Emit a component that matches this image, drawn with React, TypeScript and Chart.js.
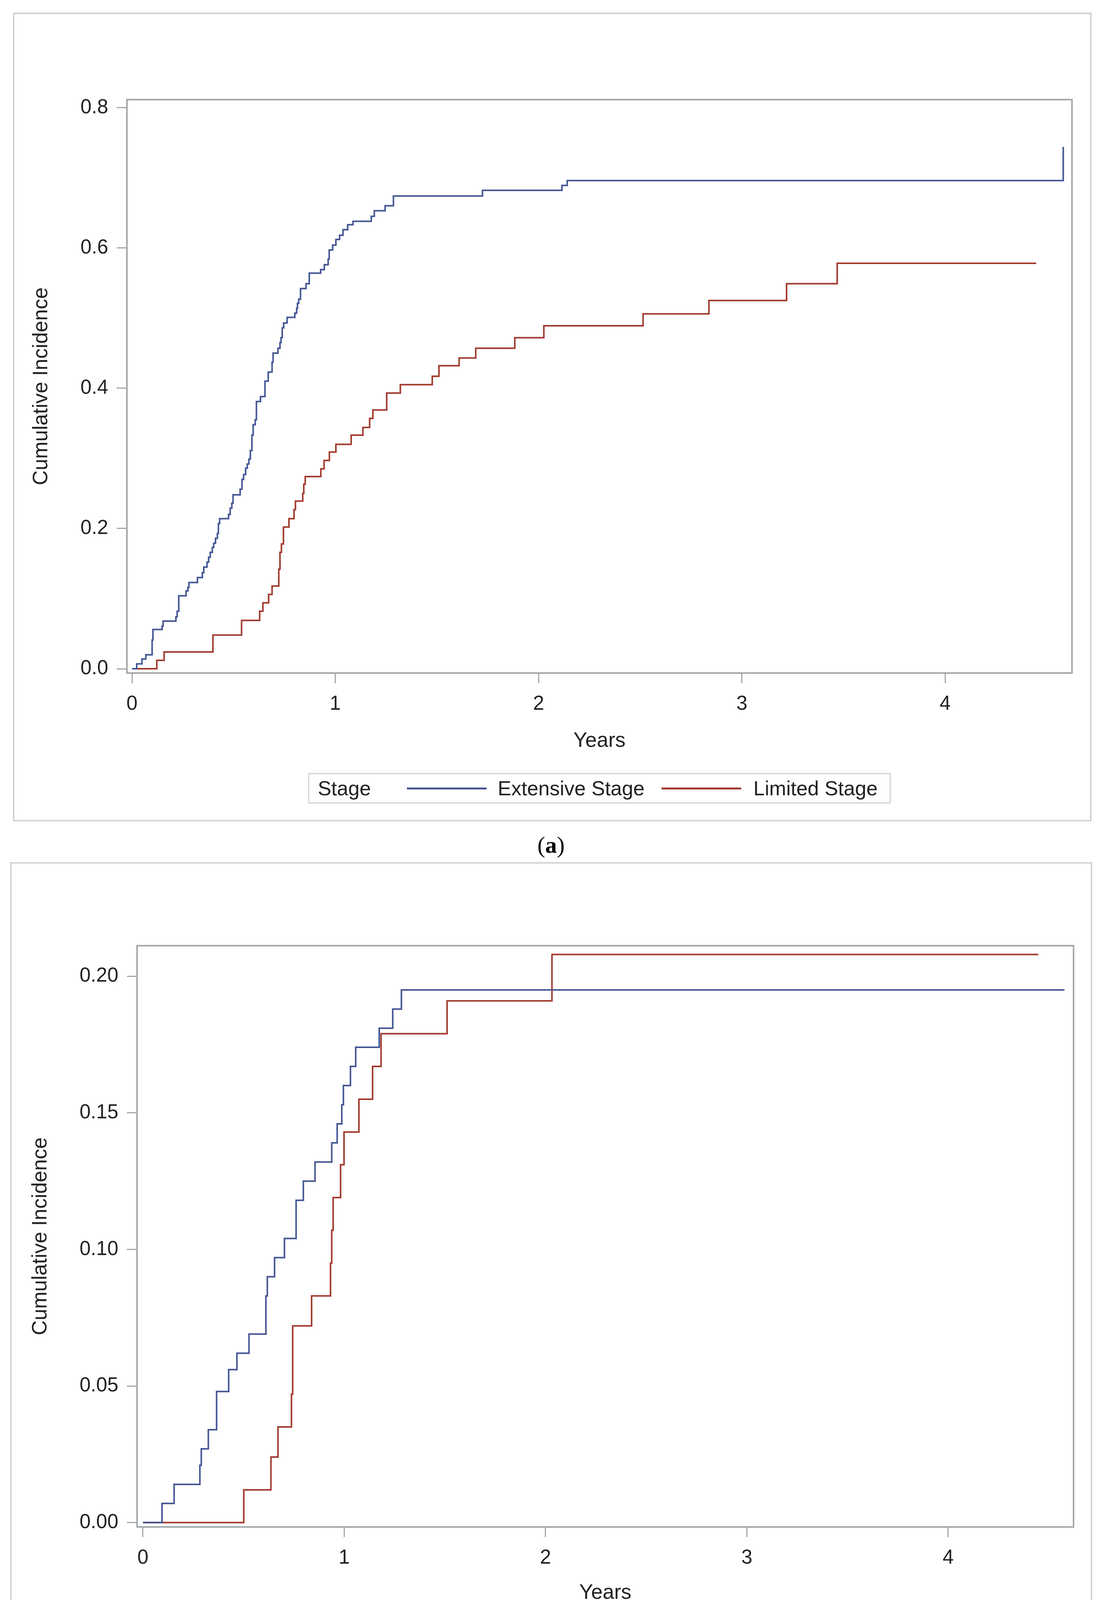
import React, { useEffect, useRef } from "react";
import { Chart, registerables } from "chart.js";

Chart.register(...registerables);

// ---------- data ----------
const legendTitle = "Stage";
const seriesLabels = ["Extensive Stage", "Limited Stage"];
const seriesColors = ["#445694", "#A23A2E"];
const xTitle = "Years";
const yTitle = "Cumulative Incidence";
const xTicks = [0, 1, 2, 3, 4];
const yTicksA = [0, 0.2, 0.4, 0.6, 0.8];
const yTicksB = [0, 0.05, 0.1, 0.15, 0.2];

// Panel (a) – Extensive stage
const extA_t = [0, 0.023, 0.049, 0.068, 0.099, 0.103, 0.148, 0.153, 0.216, 0.222, 0.23, 0.266, 0.275, 0.28, 0.322, 0.346, 0.353, 0.369, 0.377, 0.385, 0.395, 0.402, 0.411, 0.42, 0.425, 0.431, 0.475, 0.483, 0.491, 0.497, 0.532, 0.541, 0.549, 0.559, 0.567, 0.575, 0.582, 0.59, 0.596, 0.606, 0.612, 0.632, 0.654, 0.67, 0.689, 0.694, 0.718, 0.728, 0.733, 0.739, 0.746, 0.763, 0.801, 0.81, 0.814, 0.82, 0.829, 0.856, 0.872, 0.928, 0.946, 0.965, 0.97, 0.987, 1.003, 1.021, 1.038, 1.061, 1.087, 1.177, 1.192, 1.245, 1.286, 1.724, 2.115, 2.141, 4.581];
const extA_ci = [0, 0.007, 0.014, 0.02, 0.041, 0.056, 0.061, 0.068, 0.074, 0.082, 0.104, 0.111, 0.116, 0.123, 0.13, 0.137, 0.145, 0.152, 0.159, 0.166, 0.173, 0.179, 0.186, 0.193, 0.207, 0.214, 0.22, 0.229, 0.236, 0.248, 0.256, 0.27, 0.277, 0.286, 0.292, 0.299, 0.311, 0.333, 0.348, 0.355, 0.381, 0.388, 0.41, 0.423, 0.437, 0.45, 0.457, 0.465, 0.472, 0.486, 0.493, 0.501, 0.507, 0.514, 0.521, 0.527, 0.542, 0.549, 0.564, 0.569, 0.576, 0.584, 0.597, 0.604, 0.612, 0.618, 0.626, 0.633, 0.638, 0.645, 0.653, 0.66, 0.674, 0.682, 0.689, 0.696, 0.744];

// Panel (a) – Limited stage
const limA_t = [0, 0.122, 0.158, 0.398, 0.539, 0.628, 0.644, 0.672, 0.689, 0.722, 0.728, 0.735, 0.745, 0.772, 0.797, 0.804, 0.84, 0.845, 0.852, 0.929, 0.945, 0.971, 1.003, 1.078, 1.136, 1.169, 1.185, 1.253, 1.32, 1.477, 1.51, 1.609, 1.691, 1.883, 2.026, 2.514, 2.838, 3.22, 3.469, 4.448];
const limA_ci = [0, 0.012, 0.024, 0.048, 0.069, 0.082, 0.094, 0.106, 0.118, 0.142, 0.166, 0.178, 0.202, 0.214, 0.227, 0.239, 0.25, 0.263, 0.274, 0.285, 0.297, 0.309, 0.32, 0.333, 0.344, 0.357, 0.369, 0.393, 0.405, 0.417, 0.432, 0.443, 0.457, 0.472, 0.489, 0.506, 0.525, 0.549, 0.578, 0.578];

// Panel (b) – Extensive stage
const extB_t = [0, 0.095, 0.155, 0.283, 0.29, 0.325, 0.366, 0.426, 0.467, 0.527, 0.611, 0.618, 0.654, 0.703, 0.761, 0.797, 0.855, 0.938, 0.965, 0.988, 0.996, 1.031, 1.057, 1.174, 1.241, 1.284, 4.578];
const extB_ci = [0, 0.007, 0.014, 0.021, 0.027, 0.034, 0.048, 0.056, 0.062, 0.069, 0.083, 0.09, 0.097, 0.104, 0.118, 0.125, 0.132, 0.139, 0.146, 0.153, 0.16, 0.167, 0.174, 0.181, 0.188, 0.195, 0.195];

// Panel (b) – Limited stage
const limB_t = [0, 0.501, 0.636, 0.671, 0.738, 0.744, 0.838, 0.932, 0.938, 0.945, 0.982, 0.999, 1.073, 1.141, 1.183, 1.511, 2.032, 4.448];
const limB_ci = [0, 0.012, 0.024, 0.035, 0.047, 0.072, 0.083, 0.095, 0.107, 0.119, 0.131, 0.143, 0.155, 0.167, 0.179, 0.191, 0.208, 0.208];

// ---------- styling ----------
const FONT = "'Liberation Sans', Arial, Helvetica, sans-serif";
const SERIF = "'Liberation Serif', 'Times New Roman', serif";
const TEXT = "#222222";
const AXIS = "#A3A7AB";
const PAGE_W = 2827;

function toPoints(t: number[], v: number[]) {
  return t.map((x, i) => ({ x, y: v[i] }));
}

type PanelProps = {
  top: number;
  height: number;
  pad: { left: number; right: number; top: number; bottom: number };
  yW: number;
  xH: number;
  xMin: number;
  xMax: number;
  yMin: number;
  yMax: number;
  yTicks: number[];
  yDec: number;
  series: { t: number[]; v: number[] }[];
};

function PanelChart(p: PanelProps) {
  const ref = useRef<HTMLCanvasElement>(null);
  useEffect(() => {
    const frame = {
      id: "plotFrame",
      beforeDatasetsDraw(chart: any) {
        const { ctx, chartArea } = chart;
        const { left, top, right, bottom } = chartArea;
        ctx.save();
        ctx.strokeStyle = AXIS;
        ctx.lineWidth = 4;
        ctx.strokeRect(left, top, right - left, bottom - top);
        ctx.restore();
      },
    };
    const chart = new Chart(ref.current as HTMLCanvasElement, {
      type: "line",
      data: {
        datasets: p.series.map((s, i) => ({
          label: seriesLabels[i],
          data: toPoints(s.t, s.v),
          borderColor: seriesColors[i],
          backgroundColor: seriesColors[i],
          borderWidth: 4,
          pointRadius: 0,
          pointHoverRadius: 0,
          stepped: true,
          fill: false,
          tension: 0,
        })),
      },
      options: {
        animation: false,
        responsive: false,
        devicePixelRatio: 1,
        events: [],
        layout: { padding: p.pad },
        plugins: { legend: { display: false }, tooltip: { enabled: false } },
        scales: {
          x: {
            type: "linear",
            min: p.xMin,
            max: p.xMax,
            afterBuildTicks: (s: any) => {
              s.ticks = xTicks.map((v) => ({ value: v }));
            },
            afterFit: (s: any) => {
              s.height = p.xH;
            },
            grid: {
              display: true,
              drawOnChartArea: false,
              drawTicks: true,
              tickLength: 26,
              color: AXIS,
              lineWidth: 3,
            },
            border: { display: false },
            ticks: {
              color: TEXT,
              font: { family: FONT, size: 51 },
              padding: 23,
              maxRotation: 0,
              autoSkip: false,
              callback: (v: any) => String(v),
            },
            title: {
              display: true,
              text: xTitle,
              color: TEXT,
              font: { family: FONT, size: 53 },
              padding: 0,
            },
          },
          y: {
            type: "linear",
            min: p.yMin,
            max: p.yMax,
            afterBuildTicks: (s: any) => {
              s.ticks = p.yTicks.map((v) => ({ value: v }));
            },
            afterFit: (s: any) => {
              s.width = p.yW;
            },
            grid: {
              display: true,
              drawOnChartArea: false,
              drawTicks: true,
              tickLength: 26,
              color: AXIS,
              lineWidth: 3,
            },
            border: { display: false },
            ticks: {
              color: TEXT,
              font: { family: FONT, size: 51 },
              padding: 22,
              autoSkip: false,
              callback: (v: any) => Number(v).toFixed(p.yDec),
            },
            title: {
              display: true,
              text: yTitle,
              color: TEXT,
              font: { family: FONT, size: 53 },
              padding: 0,
            },
          },
        },
      },
      plugins: [frame],
    } as any);
    return () => chart.destroy();
  }, []);
  return (
    <canvas
      ref={ref}
      width={PAGE_W}
      height={p.height}
      style={{ position: "absolute", left: 0, top: p.top, width: PAGE_W, height: p.height }}
    />
  );
}

function Legend({ top, left, right }: { top: number; left: number; right: number }) {
  const line = (c: string, ml: number, mr: number) => (
    <span style={{ display: "inline-block", width: 204, height: 5, background: c, marginLeft: ml, marginRight: mr }} />
  );
  return (
    <div style={{ position: "absolute", top, left, width: right - left, display: "flex", justifyContent: "center" }}>
      <div
        style={{
          display: "flex",
          alignItems: "center",
          height: 78,
          boxSizing: "border-box",
          border: "3px solid #D6D6D6",
          boxShadow: "0 0 2px #E4E4E4",
          padding: "0 31px 0 22px",
          fontFamily: FONT,
          fontSize: 52,
          color: TEXT,
          whiteSpace: "nowrap",
          background: "#fff",
        }}
      >
        <span>{legendTitle}</span>
        {line(seriesColors[0], 92, 29)}
        <span>{seriesLabels[0]}</span>
        {line(seriesColors[1], 44, 31)}
        <span>{seriesLabels[1]}</span>
      </div>
    </div>
  );
}

function Caption({ top, letter }: { top: number; letter: string }) {
  return (
    <div
      style={{
        position: "absolute",
        left: 1211,
        width: 400,
        top,
        textAlign: "center",
        fontFamily: SERIF,
        fontSize: 60,
        lineHeight: "66px",
        color: "#000",
      }}
    >
      (<b>{letter}</b>)
    </div>
  );
}

export default function App() {
  return (
    <div style={{ position: "absolute", left: 0, top: 0, width: PAGE_W, height: 4398, background: "#fff", overflow: "hidden" }}>
      <div style={{ position: "absolute", left: 33, top: 32, width: 2762, height: 2071, boxSizing: "border-box", border: "4px solid #D4D4D4" }} />
      <div style={{ position: "absolute", left: 26, top: 2207, width: 2771, height: 2082, boxSizing: "border-box", border: "4px solid #D4D4D4" }} />

      <PanelChart
        top={0}
        height={1940}
        pad={{ left: 75, right: 82, top: 255, bottom: 11 }}
        yW={250}
        xH={206}
        xMin={-0.025}
        xMax={4.624}
        yMin={-0.0061}
        yMax={0.8114}
        yTicks={yTicksA}
        yDec={1}
        series={[
          { t: extA_t, v: extA_ci },
          { t: limA_t, v: limA_ci },
        ]}
      />
      <Legend top={1979} left={325} right={2745} />
      <Caption top={2130} letter="a" />

      <PanelChart
        top={2150}
        height={1975}
        pad={{ left: 73, right: 78, top: 271, bottom: 15 }}
        yW={278}
        xH={201}
        xMin={-0.029}
        xMax={4.623}
        yMin={-0.0016}
        yMax={0.2112}
        yTicks={yTicksB}
        yDec={2}
        series={[
          { t: extB_t, v: extB_ci },
          { t: limB_t, v: limB_ci },
        ]}
      />
      <Legend top={4164} left={351} right={2749} />
      <Caption top={4318} letter="b" />
    </div>
  );
}
